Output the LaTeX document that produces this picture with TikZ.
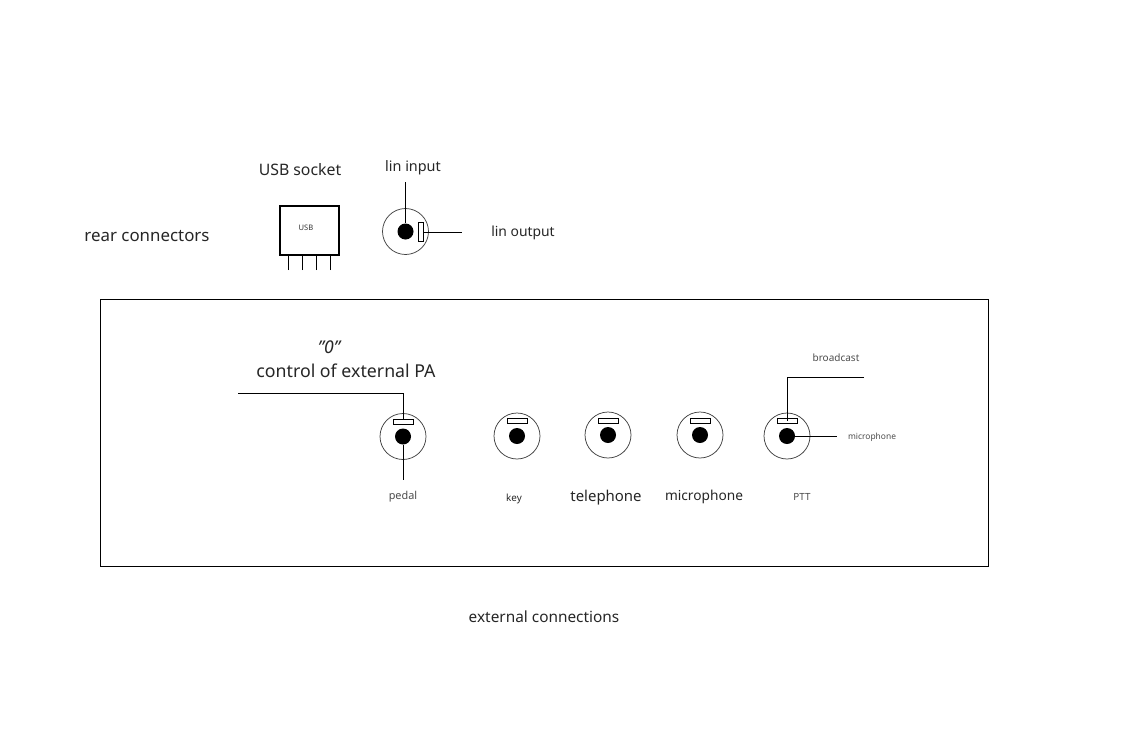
\documentclass[tikz,border=0pt]{standalone}
\usepackage{fontspec}
\setmainfont{Noto Sans}
\usetikzlibrary{positioning}

\begin{document}
\begin{tikzpicture}[x=0.02cm,y=-0.02cm,line width=0.5pt,
                    ring node/.style={circle,draw=black!75,line width=0.42pt,inner sep=0pt,minimum size=0.92cm},
                    dot node/.style={circle,fill=black,inner sep=0pt,minimum size=0.32cm},
                    slot node/.style={rectangle,draw,fill=white,inner sep=0pt,minimum width=0.4cm,minimum height=0.1cm},
                    wire/.style={line width=0.55pt},
                    size/.style={font=\fontsize{#1pt}{#1pt}\selectfont},
                    big label/.style={text=black!85},
                    small label/.style={text=black!70}]
\useasboundingbox (0,0) rectangle (1138,738);

% rear connectors
\node[big label,size=9.6] (rear) at (147,236) {rear connectors};
\node[big label,size=9] (usblabel) at (300,170) {USB socket};
\node[big label,size=8.2] (lininlabel) at (413,168) {lin input};
\node[big label,size=7.9] (linoutlabel) at (523,233) {lin output};
\node[draw,line width=1.2pt,minimum width=1.18cm,minimum height=0.98cm,inner sep=0pt] (usb) at (309.5,230.5) {};
\node[size=4.3,text=black!80] (usbtext) at (306,228) {USB};
\node[ring node] (rearring) at (405.5,231.5) {};
\node[dot node] (reardot) at (405.5,231.5) {};
\node[slot node,minimum width=0.1cm,minimum height=0.38cm] (rearslot) at (420.5,232) {};
\coordinate (lininend) at (405.5,182);
\coordinate (linoutend) at (462,232);
\coordinate (pin1) at (288.5,270);
\coordinate (pin2) at (302.5,270);
\coordinate (pin3) at (316.5,270);
\coordinate (pin4) at (330.5,270);
\draw[wire] (lininend) -- (reardot);
\draw[wire] (rearslot) -- (linoutend);
\draw[wire] (pin1) -- (pin1 |- usb.south);
\draw[wire] (pin2) -- (pin2 |- usb.south);
\draw[wire] (pin3) -- (pin3 |- usb.south);
\draw[wire] (pin4) -- (pin4 |- usb.south);

% external connections
\node[draw,inner sep=0pt,minimum width=17.77cm,minimum height=5.34cm] (panel) at (544.2,432.5) {};
\node[big label,size=8.75] (external) at (544,617) {external connections};
\node[big label,size=10.5,font=\itshape] (zero) at (329,347) {"0"};
\node[big label,size=10.1] (control) at (346,371) {control of external PA};
\node[ring node] (pedalring) at (403,436.5) {};
\node[dot node] (pedaldot) at (403,436.5) {};
\node[slot node] (pedalslot) at (403,421.5) {};
\node[ring node] (keyring) at (517,436) {};
\node[dot node] (keydot) at (517,436) {};
\node[slot node] (keyslot) at (517,421) {};
\node[ring node] (telring) at (608,435) {};
\node[dot node] (teldot) at (608,435) {};
\node[slot node] (telslot) at (608,420.5) {};
\node[ring node] (micring) at (700,435) {};
\node[dot node] (micdot) at (700,435) {};
\node[slot node] (micslot) at (700,420.5) {};
\node[ring node] (pttring) at (787,436) {};
\node[dot node] (pttdot) at (787,436) {};
\node[slot node] (pttslot) at (787,421) {};
\node[small label,size=6.2] (pedal) at (403,497) {pedal};
\node[small label,size=5.6,text=black!85] (key) at (514,499) {key};
\node[big label,size=8.5] (telephone) at (606,498) {telephone};
\node[big label,size=7.8] (microphone) at (704,497) {microphone};
\node[small label,size=5.6] (ptt) at (802,497) {PTT};
\node[small label,size=5.7] (broadcast) at (836,357.5) {broadcast};
\node[small label,size=4.8] (pttmic) at (872,437.5) {microphone};
\coordinate (paend) at (238,393);
\coordinate (pedalend) at (403,480);
\coordinate (broadcastend) at (864,377);
\coordinate (pttmicend) at (837,436);
\draw[wire] (paend) -| (pedalslot.north);
\draw[wire] (pedaldot) -- (pedalend);
\draw[wire] (broadcastend) -| (pttslot.center);
\draw[wire] (pttdot) -- (pttmicend);
\end{tikzpicture}
\end{document}
